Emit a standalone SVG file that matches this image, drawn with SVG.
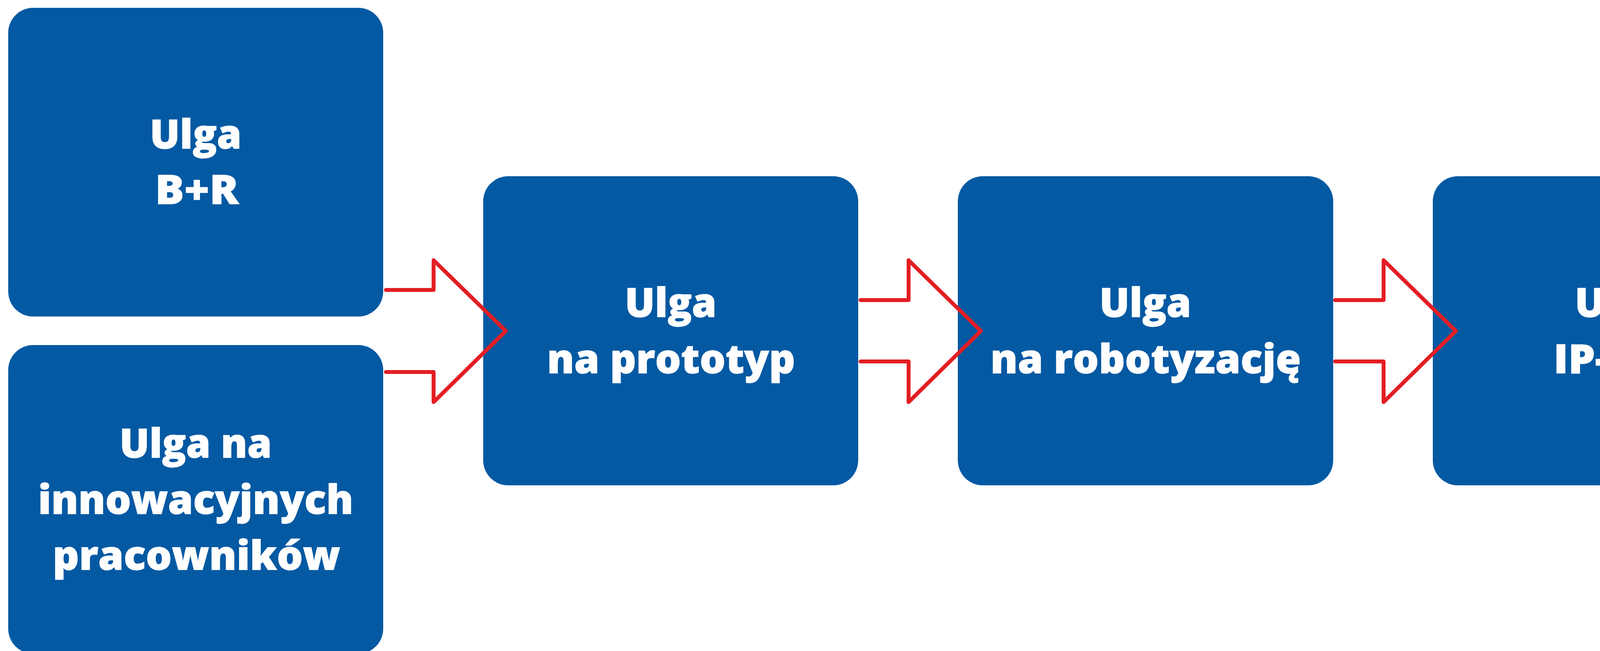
<svg xmlns="http://www.w3.org/2000/svg" width="4594" height="1666" viewBox="0 0 4594 1666">
  <style>
    .box { fill: #0459A3; }
    .lbl { fill: #FFFFFF; stroke: #FFFFFF; stroke-width: 1.5; font-family: "Open Sans", "Noto Sans", "Liberation Sans", sans-serif; font-weight: 800; font-size: 102px; text-anchor: middle; }
    .arrow { fill: none; stroke: #E31E24; stroke-width: 10; stroke-linejoin: round; stroke-linecap: round; }
  </style>
  <rect width="4594" height="1666" fill="#FFFFFF"/>
  <g id="node-br">
    <rect class="box" x="21" y="20" width="960" height="790" rx="64" ry="64"/>
    <text class="lbl" x="501" y="380" textLength="235" lengthAdjust="spacingAndGlyphs">Ulga</text>
    <text class="lbl" x="504" y="522" textLength="214" lengthAdjust="spacingAndGlyphs">B+R</text>
  </g>
  <g id="node-innowacyjni">
    <rect class="box" x="21" y="883" width="960" height="790" rx="64" ry="64"/>
    <text class="lbl" x="501" y="1171" textLength="390" lengthAdjust="spacingAndGlyphs">Ulga na</text>
    <text class="lbl" x="501" y="1315" textLength="807" lengthAdjust="spacingAndGlyphs">innowacyjnych</text>
    <text class="lbl" x="503" y="1458" textLength="736" lengthAdjust="spacingAndGlyphs">pracowników</text>
  </g>
  <g id="node-prototyp">
    <rect class="box" x="1237" y="451" width="960" height="791" rx="64" ry="64"/>
    <text class="lbl" x="1717" y="811" textLength="235" lengthAdjust="spacingAndGlyphs">Ulga</text>
    <text class="lbl" x="1718" y="955" textLength="635" lengthAdjust="spacingAndGlyphs">na prototyp</text>
  </g>
  <g id="node-robotyzacja">
    <rect class="box" x="2452" y="451" width="961" height="791" rx="64" ry="64"/>
    <text class="lbl" x="2932" y="811" textLength="235" lengthAdjust="spacingAndGlyphs">Ulga</text>
    <text class="lbl" x="2933" y="955" textLength="795" lengthAdjust="spacingAndGlyphs">na robotyzację</text>
  </g>
  <g id="node-ipbox">
    <rect class="box" x="3668" y="451" width="961" height="791" rx="64" ry="64"/>
    <text class="lbl" x="4149" y="811" textLength="235" lengthAdjust="spacingAndGlyphs">Ulga</text>
    <text class="lbl" x="4153" y="955" textLength="352" lengthAdjust="spacingAndGlyphs">IP-Box</text>
  </g>
  <g id="connectors">
    <path class="arrow" d="M988,742 H1110 V666 L1295,847 L1110,1029 V952 H988"/>
    <path class="arrow" d="M2203,768 H2326 V666 L2511,847 L2326,1029 V925 H2203"/>
    <path class="arrow" d="M3418,768 H3542 V666 L3727,847 L3542,1029 V925 H3418"/>
  </g>
</svg>
